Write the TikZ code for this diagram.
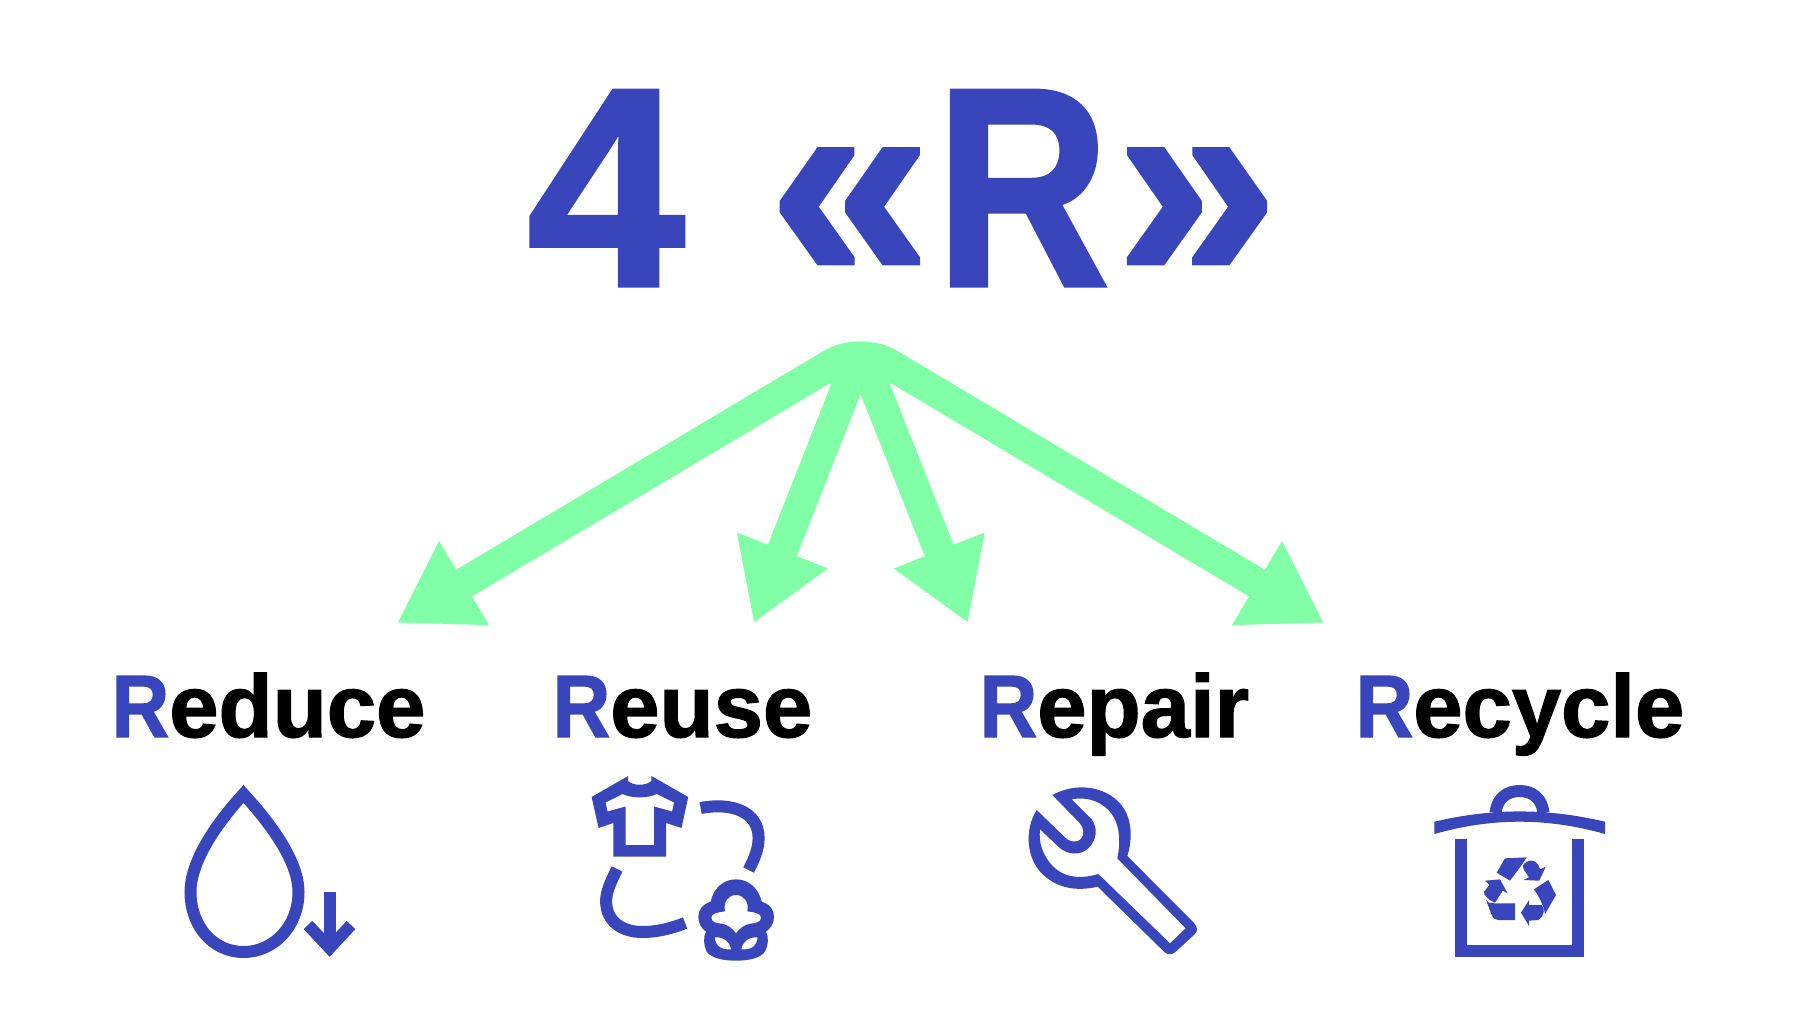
\documentclass[tikz,border=0pt]{standalone}
\usepackage{fontspec}
\setmainfont{Liberation Sans}[BoldFeatures={FakeBold=1.5}]
\usetikzlibrary{positioning,arrows.meta}
\definecolor{rblue}{RGB}{56,69,187}
\definecolor{rgreen}{RGB}{128,255,167}
\tikzset{
  x=0.01cm, y=-0.01cm,
  titletext/.style={anchor=base west, inner sep=0pt, text=rblue, font=\bfseries\fontsize{80.5}{84}\selectfont},
  wordtext/.style={anchor=base west, inner sep=0pt, font=\bfseries\fontsize{25.2}{28}\selectfont},
  bigarrow/.style={draw=rgreen, line width=3.1mm, -{Triangle[length=7.8mm,width=9.2mm]}},
  iconline/.style={draw=rblue, line width=1.2mm},
  iconfill/.style={fill=rblue, even odd rule},
}
\newcommand{\bigguil}[1]{\raisebox{.23mm}{\scalebox{1.03}[1.03]{#1}}}
\begin{document}
\begin{tikzpicture}
\useasboundingbox (0,0) rectangle (1800,1012);

% Heading
\node[titletext] (heading) at (526.5,285.5) {4 \hspace{.55mm}\bigguil{«}\hspace{.45mm}\scalebox{.85}[1]{R}\hspace{.65mm}\bigguil{»}};

% Arrows
\coordinate (apex) at (860.5,347);
\coordinate (apexin) at (860.5,352);
\coordinate (tipreduce) at (397,623);
\coordinate (tipreuse) at (753.7,623);
\coordinate (tiprepair) at (968,623);
\coordinate (tiprecycle) at (1324,623);
\draw[bigarrow, {Triangle[length=7.8mm,width=9.2mm]}-{Triangle[length=7.8mm,width=9.2mm]}, rounded corners=3.3mm] (tipreduce) -- (apex) -- (tiprecycle);
\foreach \tip in {tipreuse,tiprepair} {
  \draw[bigarrow] (apexin) -- (\tip);
}

% Words
\foreach \x/\word/\name in {111/educe/reduce,552/euse/reuse,979/epair/repair,1355/ecycle/recycle} {
  \node[wordtext] (\name) at (\x,737) {\textcolor{rblue}{\scalebox{.9}[1]{R}}\word};
}

% Drop with small arrow
\draw[iconline] (243.5,794) .. controls (215,825) and (190.5,862) .. (190.5,892)
  .. controls (190.5,926) and (213,952) .. (243.5,952)
  .. controls (274,952) and (298.5,926) .. (298.5,892)
  .. controls (298.5,862) and (272,825) .. (243.5,794) -- cycle;
\draw[iconline] (329.6,892) -- (329.6,948);
\draw[iconline] (308,925) -- (329.6,948) -- (351,925);

% Shirt
\begin{scope}[xshift=-0.024cm]
\fill[iconfill] (630.5,776) -- (594,797) -- (601,828) -- (615.7,823) -- (615.7,856.7) -- (668.6,856.7) -- (668.6,823) -- (683.9,828) -- (690.6,797) -- (653.8,776) -- (653.8,781)
    .. controls (648,786) and (636,786) .. (630.5,781) -- cycle
  (608,802.5) -- (625,794) .. controls (634,798.5) and (650,798.5) .. (659.2,794) -- (676.5,802.5) -- (674.5,811.5) -- (656.5,806.5) -- (656.5,845) -- (628,845) -- (628,806.5) -- (610,811.5) -- cycle;
\draw[iconline] (703,808) .. controls (735,802) and (761,812) .. (761,838) .. controls (761,850) and (756,860) .. (751,870);
\draw[iconline] (619.5,869) .. controls (613,882) and (608.5,892) .. (608.5,901)
  .. controls (608.5,922) and (625,932) .. (645,932) .. controls (660,932) and (675,928) .. (687.5,923);
\end{scope}

% Cotton flower
\begin{scope}[shift={(690,870)}, scale=1/3]
\fill[iconfill] (62,95) .. controls (70,55) and (100,28) .. (138,28) .. controls (176,28) and (206,55) .. (215,95)
    .. controls (240,103) and (252,120) .. (252,140) .. controls (252,160) and (242,175) .. (228,185)
    .. controls (236,200) and (236,225) .. (225,245) .. controls (210,265) and (175,272) .. (138,272)
    .. controls (100,272) and (65,265) .. (50,245) .. controls (40,225) and (40,200) .. (48,185)
    .. controls (34,175) and (25,160) .. (25,140) .. controls (25,120) and (37,103) .. (62,95) -- cycle
  (138,75) .. controls (115,75) and (99,95) .. (105,124) .. controls (82,127) and (64,130) .. (64,143)
    .. controls (64,156) and (78,160) .. (95,161) .. controls (112,163) and (128,176) .. (138,190)
    .. controls (148,176) and (164,163) .. (181,161) .. controls (198,160) and (213,156) .. (213,143)
    .. controls (213,130) and (195,127) .. (172,124) .. controls (178,95) and (161,75) .. (138,75) -- cycle
  (74,202) .. controls (100,200) and (120,214) .. (123,238) .. controls (95,240) and (77,230) .. (74,202) -- cycle
  (203,202) .. controls (177,200) and (157,214) .. (154,238) .. controls (182,240) and (200,230) .. (203,202) -- cycle;
\end{scope}

% Wrench
\begin{scope}[shift={(1020,780)}, scale=1/3]
\fill[iconfill] (97,45) .. controls (170,5) and (255,20) .. (300,70) .. controls (335,110) and (340,170) .. (322,228)
    -- (523,430) .. controls (533,442) and (533,452) .. (525,462) -- (465,517) .. controls (455,525) and (442,525) .. (432,515)
    -- (233,320) .. controls (170,335) and (110,325) .. (65,280) .. controls (20,235) and (12,150) .. (50,90)
    -- (135,172) .. controls (150,190) and (190,192) .. (190,155) .. controls (190,145) and (185,135) .. (178,128) -- cycle
  (155,58) -- (215,118) .. controls (235,145) and (230,180) .. (205,205) .. controls (180,228) and (140,225) .. (115,200)
    -- (60,148) .. controls (55,190) and (70,230) .. (100,260) .. controls (140,298) and (190,295) .. (235,282)
    -- (450,490) -- (497,445) -- (292,235) .. controls (305,170) and (295,120) .. (265,90) .. controls (235,60) and (195,50) .. (155,58) -- cycle;
\end{scope}

% Recycling bin
\begin{scope}[xshift=-0.03cm]
\draw[iconline] (1498.5,813) .. controls (1500,798) and (1510,791) .. (1522.7,791) .. controls (1535,791) and (1545,798) .. (1546.5,813);
\fill[iconfill] (1437.4,821.7) .. controls (1495,808) and (1550,808) .. (1608,821.7) -- (1608,834) .. controls (1550,817.6) and (1495,817.6) .. (1437.4,834) -- cycle;
\draw[iconline] (1464,839) -- (1464,950.5) -- (1581.4,950.5) -- (1581.4,839);
\end{scope}
\begin{scope}[shift={(1480,850)}, scale=1/3]
\fill[iconfill] (75,25) -- (140,22) -- (125,45) -- (90,92) -- (50,68) -- cycle;
\fill[iconfill] (128,48) .. controls (140,25) and (172,25) .. (180,58) -- (197,50) -- (178,92) -- (130,90) -- (147,82) -- (132,60) -- cycle;
\fill[iconfill] (205,90) -- (228,135) -- (195,192) .. controls (192,170) and (180,145) .. (162,118) -- cycle;
\fill[iconfill] (147,150) -- (147,165) -- (185,165) .. controls (195,175) and (195,195) .. (175,210) -- (147,212) -- (147,228) -- (123,188) -- cycle;
\fill[iconfill] (18,150) .. controls (25,160) and (35,160) .. (45,160) -- (105,160) -- (105,210) -- (55,210) .. controls (45,210) and (40,205) .. (35,195) -- cycle;
\fill[iconfill] (15,92) -- (60,88) -- (83,130) -- (68,122) -- (45,158) .. controls (25,150) and (10,135) .. (12,125) -- (28,105) -- cycle;
\end{scope}
\end{tikzpicture}
\end{document}
